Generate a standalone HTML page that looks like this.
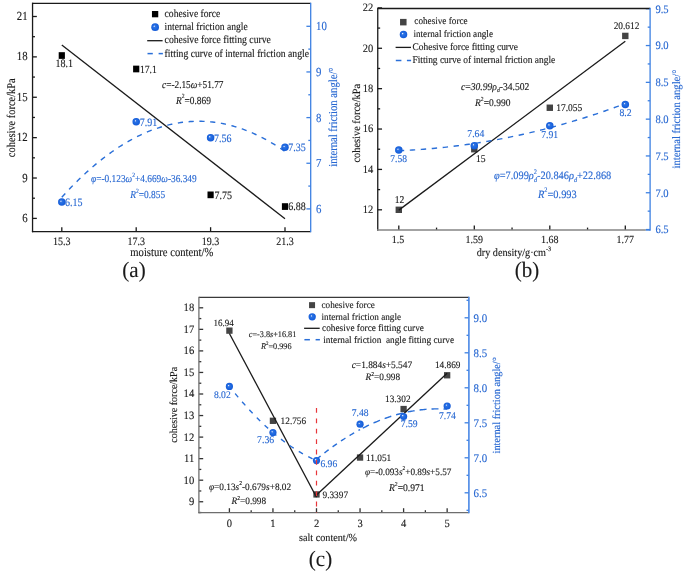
<!DOCTYPE html>
<html><head><meta charset="utf-8"><style>
html,body{margin:0;padding:0;background:#fff;}
svg{display:block;will-change:transform;}
text{font-family:"Liberation Serif",serif;text-rendering:geometricPrecision;}
</style></head><body>
<svg width="685" height="576" viewBox="0 0 685 576">
<defs>
<radialGradient id="ball" cx="0.5" cy="0.5" r="0.5" fx="0.36" fy="0.36">
<stop offset="0" stop-color="#eef4fe"/>
<stop offset="0.1" stop-color="#b5cdf5"/>
<stop offset="0.28" stop-color="#2f73e3"/>
<stop offset="0.7" stop-color="#1a65df"/>
<stop offset="1" stop-color="#155ad6"/>
</radialGradient>
</defs>
<rect width="685" height="576" fill="#fff"/>
<line x1="32.55" y1="218.40" x2="36.85" y2="218.40" stroke="#1a1a1a" stroke-width="1.3" />
<text transform="translate(27.60,221.96) scale(1,1.14)" font-size="10.8" fill="#1a1a1a" stroke="#1a1a1a" stroke-width="0.12" text-anchor="end" >6</text>
<line x1="32.55" y1="178.02" x2="36.85" y2="178.02" stroke="#1a1a1a" stroke-width="1.3" />
<text transform="translate(27.60,181.58) scale(1,1.14)" font-size="10.8" fill="#1a1a1a" stroke="#1a1a1a" stroke-width="0.12" text-anchor="end" >9</text>
<line x1="32.55" y1="137.64" x2="36.85" y2="137.64" stroke="#1a1a1a" stroke-width="1.3" />
<text transform="translate(27.60,141.20) scale(1,1.14)" font-size="10.8" fill="#1a1a1a" stroke="#1a1a1a" stroke-width="0.12" text-anchor="end" >12</text>
<line x1="32.55" y1="97.26" x2="36.85" y2="97.26" stroke="#1a1a1a" stroke-width="1.3" />
<text transform="translate(27.60,100.82) scale(1,1.14)" font-size="10.8" fill="#1a1a1a" stroke="#1a1a1a" stroke-width="0.12" text-anchor="end" >15</text>
<line x1="32.55" y1="56.88" x2="36.85" y2="56.88" stroke="#1a1a1a" stroke-width="1.3" />
<text transform="translate(27.60,60.44) scale(1,1.14)" font-size="10.8" fill="#1a1a1a" stroke="#1a1a1a" stroke-width="0.12" text-anchor="end" >18</text>
<line x1="32.55" y1="16.50" x2="36.85" y2="16.50" stroke="#1a1a1a" stroke-width="1.3" />
<text transform="translate(27.60,20.06) scale(1,1.14)" font-size="10.8" fill="#1a1a1a" stroke="#1a1a1a" stroke-width="0.12" text-anchor="end" >21</text>
<line x1="32.55" y1="198.21" x2="34.95" y2="198.21" stroke="#1a1a1a" stroke-width="1.3" />
<line x1="32.55" y1="157.83" x2="34.95" y2="157.83" stroke="#1a1a1a" stroke-width="1.3" />
<line x1="32.55" y1="117.45" x2="34.95" y2="117.45" stroke="#1a1a1a" stroke-width="1.3" />
<line x1="32.55" y1="77.07" x2="34.95" y2="77.07" stroke="#1a1a1a" stroke-width="1.3" />
<line x1="32.55" y1="36.69" x2="34.95" y2="36.69" stroke="#1a1a1a" stroke-width="1.3" />
<line x1="61.80" y1="231.60" x2="61.80" y2="227.20" stroke="#1a1a1a" stroke-width="1.3" />
<text transform="translate(61.80,244.90) scale(1,1.14)" font-size="10" fill="#1a1a1a" stroke="#1a1a1a" stroke-width="0.12" text-anchor="middle" >15.3</text>
<line x1="136.20" y1="231.60" x2="136.20" y2="227.20" stroke="#1a1a1a" stroke-width="1.3" />
<text transform="translate(136.20,244.90) scale(1,1.14)" font-size="10" fill="#1a1a1a" stroke="#1a1a1a" stroke-width="0.12" text-anchor="middle" >17.3</text>
<line x1="210.60" y1="231.60" x2="210.60" y2="227.20" stroke="#1a1a1a" stroke-width="1.3" />
<text transform="translate(210.60,244.90) scale(1,1.14)" font-size="10" fill="#1a1a1a" stroke="#1a1a1a" stroke-width="0.12" text-anchor="middle" >19.3</text>
<line x1="285.00" y1="231.60" x2="285.00" y2="227.20" stroke="#1a1a1a" stroke-width="1.3" />
<text transform="translate(285.00,244.90) scale(1,1.14)" font-size="10" fill="#1a1a1a" stroke="#1a1a1a" stroke-width="0.12" text-anchor="middle" >21.3</text>
<line x1="310.70" y1="208.90" x2="306.40" y2="208.90" stroke="#3d80e2" stroke-width="1.3" />
<text transform="translate(316.00,212.96) scale(1,1.14)" font-size="10.8" fill="#2868d2" stroke="#2868d2" stroke-width="0.12" text-anchor="start" >6</text>
<line x1="310.70" y1="163.25" x2="306.40" y2="163.25" stroke="#3d80e2" stroke-width="1.3" />
<text transform="translate(316.00,167.31) scale(1,1.14)" font-size="10.8" fill="#2868d2" stroke="#2868d2" stroke-width="0.12" text-anchor="start" >7</text>
<line x1="310.70" y1="117.60" x2="306.40" y2="117.60" stroke="#3d80e2" stroke-width="1.3" />
<text transform="translate(316.00,121.66) scale(1,1.14)" font-size="10.8" fill="#2868d2" stroke="#2868d2" stroke-width="0.12" text-anchor="start" >8</text>
<line x1="310.70" y1="71.95" x2="306.40" y2="71.95" stroke="#3d80e2" stroke-width="1.3" />
<text transform="translate(316.00,76.01) scale(1,1.14)" font-size="10.8" fill="#2868d2" stroke="#2868d2" stroke-width="0.12" text-anchor="start" >9</text>
<line x1="310.70" y1="26.30" x2="306.40" y2="26.30" stroke="#3d80e2" stroke-width="1.3" />
<text transform="translate(316.00,30.36) scale(1,1.14)" font-size="10.8" fill="#2868d2" stroke="#2868d2" stroke-width="0.12" text-anchor="start" >10</text>
<line x1="310.70" y1="186.08" x2="308.30" y2="186.08" stroke="#3d80e2" stroke-width="1.3" />
<line x1="310.70" y1="140.43" x2="308.30" y2="140.43" stroke="#3d80e2" stroke-width="1.3" />
<line x1="310.70" y1="94.78" x2="308.30" y2="94.78" stroke="#3d80e2" stroke-width="1.3" />
<line x1="310.70" y1="49.12" x2="308.30" y2="49.12" stroke="#3d80e2" stroke-width="1.3" />
<line x1="32.55" y1="3.30" x2="310.70" y2="3.30" stroke="#1a1a1a" stroke-width="1.3" />
<line x1="32.55" y1="2.65" x2="32.55" y2="232.25" stroke="#1a1a1a" stroke-width="1.3" />
<line x1="31.90" y1="231.60" x2="310.70" y2="231.60" stroke="#1a1a1a" stroke-width="1.3" />
<line x1="310.70" y1="2.65" x2="310.70" y2="232.25" stroke="#3d80e2" stroke-width="1.3" />
<line x1="61.80" y1="45.10" x2="285.00" y2="218.74" stroke="#1a1a1a" stroke-width="1.3" />
<polyline points="61.80,197.30 63.66,195.24 65.52,193.22 67.38,191.22 69.24,189.26 71.10,187.32 72.96,185.40 74.82,183.52 76.68,181.67 78.54,179.84 80.40,178.04 82.26,176.27 84.12,174.52 85.98,172.81 87.84,171.12 89.70,169.46 91.56,167.83 93.42,166.23 95.28,164.65 97.14,163.11 99.00,161.59 100.86,160.10 102.72,158.64 104.58,157.20 106.44,155.79 108.30,154.42 110.16,153.07 112.02,151.74 113.88,150.45 115.74,149.18 117.60,147.95 119.46,146.74 121.32,145.55 123.18,144.40 125.04,143.27 126.90,142.18 128.76,141.11 130.62,140.07 132.48,139.05 134.34,138.07 136.20,137.11 138.06,136.18 139.92,135.28 141.78,134.41 143.64,133.56 145.50,132.75 147.36,131.96 149.22,131.20 151.08,130.46 152.94,129.76 154.80,129.08 156.66,128.43 158.52,127.81 160.38,127.22 162.24,126.66 164.10,126.12 165.96,125.61 167.82,125.13 169.68,124.68 171.54,124.26 173.40,123.86 175.26,123.50 177.12,123.16 178.98,122.84 180.84,122.56 182.70,122.31 184.56,122.08 186.42,121.88 188.28,121.71 190.14,121.57 192.00,121.45 193.86,121.36 195.72,121.30 197.58,121.27 199.44,121.27 201.30,121.30 203.16,121.35 205.02,121.43 206.88,121.54 208.74,121.68 210.60,121.85 212.46,122.04 214.32,122.26 216.18,122.51 218.04,122.79 219.90,123.10 221.76,123.43 223.62,123.79 225.48,124.18 227.34,124.60 229.20,125.05 231.06,125.52 232.92,126.03 234.78,126.56 236.64,127.11 238.50,127.70 240.36,128.32 242.22,128.96 244.08,129.63 245.94,130.33 247.80,131.06 249.66,131.81 251.52,132.60 253.38,133.41 255.24,134.25 257.10,135.12 258.96,136.01 260.82,136.93 262.68,137.89 264.54,138.87 266.40,139.87 268.26,140.91 270.12,141.98 271.98,143.07 273.84,144.19 275.70,145.34 277.56,146.51 279.42,147.72 281.28,148.95 283.14,150.21 285.00,151.50" fill="none" stroke="#2a6fd8" stroke-width="1.4" stroke-dasharray="5.2,5.6" stroke-dashoffset="0"/>
<rect x="58.70" y="52.18" width="6.2" height="6.7" fill="#000"/>
<rect x="133.10" y="65.64" width="6.2" height="6.7" fill="#000"/>
<rect x="207.50" y="191.50" width="6.2" height="6.7" fill="#000"/>
<rect x="281.90" y="203.21" width="6.2" height="6.7" fill="#000"/>
<text transform="translate(64.30,67.20) scale(1,1.14)" font-size="10" fill="#1a1a1a" stroke="#1a1a1a" stroke-width="0.12" text-anchor="middle" >18.1</text>
<text transform="translate(139.90,73.19) scale(1,1.14)" font-size="9.7" fill="#1a1a1a" stroke="#1a1a1a" stroke-width="0.12" text-anchor="start" >17.1</text>
<text transform="translate(214.40,198.75) scale(1,1.14)" font-size="10" fill="#1a1a1a" stroke="#1a1a1a" stroke-width="0.12" text-anchor="start" >7.75</text>
<text transform="translate(288.30,210.46) scale(1,1.14)" font-size="10" fill="#1a1a1a" stroke="#1a1a1a" stroke-width="0.12" text-anchor="start" >6.88</text>
<circle cx="61.80" cy="202.05" r="3.75" fill="url(#ball)"/>
<circle cx="136.20" cy="121.71" r="3.75" fill="url(#ball)"/>
<circle cx="210.60" cy="137.69" r="3.75" fill="url(#ball)"/>
<circle cx="285.00" cy="147.27" r="3.75" fill="url(#ball)"/>
<text transform="translate(65.00,205.95) scale(1,1.14)" font-size="10" fill="#2868d2" stroke="#2868d2" stroke-width="0.12" text-anchor="start" >6.15</text>
<text transform="translate(139.80,125.61) scale(1,1.14)" font-size="10" fill="#2868d2" stroke="#2868d2" stroke-width="0.12" text-anchor="start" >7.91</text>
<text transform="translate(214.00,141.59) scale(1,1.14)" font-size="10" fill="#2868d2" stroke="#2868d2" stroke-width="0.12" text-anchor="start" >7.56</text>
<text transform="translate(288.30,151.17) scale(1,1.14)" font-size="10" fill="#2868d2" stroke="#2868d2" stroke-width="0.12" text-anchor="start" >7.35</text>
<rect x="151.95" y="11.00" width="6.3" height="6.3" fill="#000"/>
<circle cx="155.15" cy="27.15" r="3.85" fill="url(#ball)"/>
<line x1="147.20" y1="40.70" x2="162.60" y2="40.70" stroke="#1a1a1a" stroke-width="1.3" />
<line x1="147.50" y1="53.60" x2="152.80" y2="53.60" stroke="#2a6fd8" stroke-width="1.5" />
<line x1="158.60" y1="53.60" x2="162.90" y2="53.60" stroke="#2a6fd8" stroke-width="1.5" />
<text transform="translate(164.60,17.00) scale(1,1.14)" font-size="9.6" fill="#1a1a1a" stroke="#1a1a1a" stroke-width="0.12" text-anchor="start" >cohesive force</text>
<text transform="translate(164.60,30.20) scale(1,1.14)" font-size="9.6" fill="#1a1a1a" stroke="#1a1a1a" stroke-width="0.12" text-anchor="start" >internal friction angle</text>
<text transform="translate(164.60,43.40) scale(1,1.14)" font-size="9.7" fill="#1a1a1a" stroke="#1a1a1a" stroke-width="0.12" text-anchor="start" >cohesive force fitting curve</text>
<text transform="translate(164.60,56.60) scale(1,1.14)" font-size="9.7" fill="#1a1a1a" stroke="#1a1a1a" stroke-width="0.12" text-anchor="start" >fitting curve of internal friction angle</text>
<text transform="translate(162.00,87.50) scale(1,1.14)" font-size="9.3" fill="#1a1a1a" stroke="#1a1a1a" stroke-width="0.12" text-anchor="start"><tspan font-style="italic">c</tspan><tspan>=-2.15</tspan><tspan font-style="italic">ω</tspan><tspan>+51.77</tspan></text>
<text transform="translate(176.00,103.50) scale(1,1.14)" font-size="9.4" fill="#1a1a1a" stroke="#1a1a1a" stroke-width="0.12" text-anchor="start"><tspan font-style="italic">R</tspan><tspan font-size="5.64" dy="-4.51">2</tspan><tspan dy="4.51">=0.869</tspan></text>
<text transform="translate(91.00,181.80) scale(1,1.14)" font-size="9.35" fill="#2868d2" stroke="#2868d2" stroke-width="0.12" text-anchor="start"><tspan font-style="italic">φ</tspan><tspan>=-0.123</tspan><tspan font-style="italic">ω</tspan><tspan font-size="5.61" dy="-4.49">2</tspan><tspan dy="4.49">+4.669</tspan><tspan font-style="italic">ω</tspan><tspan>-36.349</tspan></text>
<text transform="translate(130.20,198.00) scale(1,1.14)" font-size="9.4" fill="#2868d2" stroke="#2868d2" stroke-width="0.12" text-anchor="start"><tspan font-style="italic">R</tspan><tspan font-size="5.64" dy="-4.51">2</tspan><tspan dy="4.51">=0.855</tspan></text>
<text transform="translate(171.80,256.30) scale(1,1.14)" font-size="10.65" fill="#1a1a1a" stroke="#1a1a1a" stroke-width="0.12" text-anchor="middle" >moisture content/%</text>
<text transform="translate(14.90,117.75) rotate(-90) scale(1,1.14)" font-size="10.4" fill="#1a1a1a" stroke="#1a1a1a" stroke-width="0.12" text-anchor="middle">cohesive force/kPa</text>
<text transform="translate(337.00,117.10) rotate(-90) scale(1,1.14)" font-size="10.65" fill="#2868d2" stroke="#2868d2" stroke-width="0.12" text-anchor="middle">internal friction angle/°</text>
<text transform="translate(134.00,277.30) scale(1,1.04)" font-size="21" fill="#1a1a1a" stroke="#1a1a1a" stroke-width="0.12" text-anchor="middle" >(a)</text>
<line x1="377.75" y1="209.80" x2="382.05" y2="209.80" stroke="#1a1a1a" stroke-width="1.3" />
<text transform="translate(373.20,213.14) scale(1,1.08)" font-size="10.5" fill="#1a1a1a" stroke="#1a1a1a" stroke-width="0.12" text-anchor="end" >12</text>
<line x1="377.75" y1="169.42" x2="382.05" y2="169.42" stroke="#1a1a1a" stroke-width="1.3" />
<text transform="translate(373.20,172.76) scale(1,1.08)" font-size="10.5" fill="#1a1a1a" stroke="#1a1a1a" stroke-width="0.12" text-anchor="end" >14</text>
<line x1="377.75" y1="129.04" x2="382.05" y2="129.04" stroke="#1a1a1a" stroke-width="1.3" />
<text transform="translate(373.20,132.38) scale(1,1.08)" font-size="10.5" fill="#1a1a1a" stroke="#1a1a1a" stroke-width="0.12" text-anchor="end" >16</text>
<line x1="377.75" y1="88.66" x2="382.05" y2="88.66" stroke="#1a1a1a" stroke-width="1.3" />
<text transform="translate(373.20,92.00) scale(1,1.08)" font-size="10.5" fill="#1a1a1a" stroke="#1a1a1a" stroke-width="0.12" text-anchor="end" >18</text>
<line x1="377.75" y1="48.28" x2="382.05" y2="48.28" stroke="#1a1a1a" stroke-width="1.3" />
<text transform="translate(373.20,51.62) scale(1,1.08)" font-size="10.5" fill="#1a1a1a" stroke="#1a1a1a" stroke-width="0.12" text-anchor="end" >20</text>
<line x1="377.75" y1="7.90" x2="382.05" y2="7.90" stroke="#1a1a1a" stroke-width="1.3" />
<text transform="translate(373.20,11.24) scale(1,1.08)" font-size="10.5" fill="#1a1a1a" stroke="#1a1a1a" stroke-width="0.12" text-anchor="end" >22</text>
<line x1="377.75" y1="189.61" x2="380.15" y2="189.61" stroke="#1a1a1a" stroke-width="1.3" />
<line x1="377.75" y1="149.23" x2="380.15" y2="149.23" stroke="#1a1a1a" stroke-width="1.3" />
<line x1="377.75" y1="108.85" x2="380.15" y2="108.85" stroke="#1a1a1a" stroke-width="1.3" />
<line x1="377.75" y1="68.47" x2="380.15" y2="68.47" stroke="#1a1a1a" stroke-width="1.3" />
<line x1="377.75" y1="28.09" x2="380.15" y2="28.09" stroke="#1a1a1a" stroke-width="1.3" />
<line x1="398.80" y1="230.00" x2="398.80" y2="225.60" stroke="#1a1a1a" stroke-width="1.3" />
<text transform="translate(398.10,243.00) scale(1,1.08)" font-size="10" fill="#1a1a1a" stroke="#1a1a1a" stroke-width="0.12" text-anchor="middle" >1.5</text>
<line x1="474.30" y1="230.00" x2="474.30" y2="225.60" stroke="#1a1a1a" stroke-width="1.3" />
<text transform="translate(474.30,243.00) scale(1,1.08)" font-size="10" fill="#1a1a1a" stroke="#1a1a1a" stroke-width="0.12" text-anchor="middle" >1.59</text>
<line x1="549.80" y1="230.00" x2="549.80" y2="225.60" stroke="#1a1a1a" stroke-width="1.3" />
<text transform="translate(549.80,243.00) scale(1,1.08)" font-size="10" fill="#1a1a1a" stroke="#1a1a1a" stroke-width="0.12" text-anchor="middle" >1.68</text>
<line x1="625.30" y1="230.00" x2="625.30" y2="225.60" stroke="#1a1a1a" stroke-width="1.3" />
<text transform="translate(625.30,243.00) scale(1,1.08)" font-size="10" fill="#1a1a1a" stroke="#1a1a1a" stroke-width="0.12" text-anchor="middle" >1.77</text>
<line x1="436.55" y1="230.00" x2="436.55" y2="227.60" stroke="#1a1a1a" stroke-width="1.3" />
<line x1="512.05" y1="230.00" x2="512.05" y2="227.60" stroke="#1a1a1a" stroke-width="1.3" />
<line x1="587.55" y1="230.00" x2="587.55" y2="227.60" stroke="#1a1a1a" stroke-width="1.3" />
<line x1="650.10" y1="229.55" x2="645.80" y2="229.55" stroke="#3d80e2" stroke-width="1.3" />
<text transform="translate(655.40,233.33) scale(1,1.08)" font-size="10.6" fill="#2868d2" stroke="#2868d2" stroke-width="0.12" text-anchor="start" >6.5</text>
<line x1="650.10" y1="192.75" x2="645.80" y2="192.75" stroke="#3d80e2" stroke-width="1.3" />
<text transform="translate(655.40,196.53) scale(1,1.08)" font-size="10.6" fill="#2868d2" stroke="#2868d2" stroke-width="0.12" text-anchor="start" >7.0</text>
<line x1="650.10" y1="155.95" x2="645.80" y2="155.95" stroke="#3d80e2" stroke-width="1.3" />
<text transform="translate(655.40,159.73) scale(1,1.08)" font-size="10.6" fill="#2868d2" stroke="#2868d2" stroke-width="0.12" text-anchor="start" >7.5</text>
<line x1="650.10" y1="119.15" x2="645.80" y2="119.15" stroke="#3d80e2" stroke-width="1.3" />
<text transform="translate(655.40,122.93) scale(1,1.08)" font-size="10.6" fill="#2868d2" stroke="#2868d2" stroke-width="0.12" text-anchor="start" >8.0</text>
<line x1="650.10" y1="82.35" x2="645.80" y2="82.35" stroke="#3d80e2" stroke-width="1.3" />
<text transform="translate(655.40,86.13) scale(1,1.08)" font-size="10.6" fill="#2868d2" stroke="#2868d2" stroke-width="0.12" text-anchor="start" >8.5</text>
<line x1="650.10" y1="45.55" x2="645.80" y2="45.55" stroke="#3d80e2" stroke-width="1.3" />
<text transform="translate(655.40,49.33) scale(1,1.08)" font-size="10.6" fill="#2868d2" stroke="#2868d2" stroke-width="0.12" text-anchor="start" >9.0</text>
<line x1="650.10" y1="8.75" x2="645.80" y2="8.75" stroke="#3d80e2" stroke-width="1.3" />
<text transform="translate(655.40,12.53) scale(1,1.08)" font-size="10.6" fill="#2868d2" stroke="#2868d2" stroke-width="0.12" text-anchor="start" >9.5</text>
<line x1="650.10" y1="211.15" x2="647.70" y2="211.15" stroke="#3d80e2" stroke-width="1.3" />
<line x1="650.10" y1="174.35" x2="647.70" y2="174.35" stroke="#3d80e2" stroke-width="1.3" />
<line x1="650.10" y1="137.55" x2="647.70" y2="137.55" stroke="#3d80e2" stroke-width="1.3" />
<line x1="650.10" y1="100.75" x2="647.70" y2="100.75" stroke="#3d80e2" stroke-width="1.3" />
<line x1="650.10" y1="63.95" x2="647.70" y2="63.95" stroke="#3d80e2" stroke-width="1.3" />
<line x1="650.10" y1="27.15" x2="647.70" y2="27.15" stroke="#3d80e2" stroke-width="1.3" />
<line x1="377.75" y1="8.50" x2="650.10" y2="8.50" stroke="#1a1a1a" stroke-width="1.3" />
<line x1="377.75" y1="7.85" x2="377.75" y2="230.65" stroke="#1a1a1a" stroke-width="1.3" />
<line x1="377.10" y1="230.00" x2="645.80" y2="230.00" stroke="#858585" stroke-width="1.3" />
<line x1="645.80" y1="230.00" x2="650.10" y2="230.00" stroke="#3d80e2" stroke-width="1.3" />
<line x1="650.10" y1="7.85" x2="650.10" y2="230.65" stroke="#3d80e2" stroke-width="1.3" />
<rect x="395.60" y="206.60" width="6.4" height="6.4" fill="#444444"/>
<rect x="471.10" y="146.03" width="6.4" height="6.4" fill="#444444"/>
<rect x="546.60" y="104.54" width="6.4" height="6.4" fill="#444444"/>
<rect x="622.10" y="32.72" width="6.4" height="6.4" fill="#444444"/>
<line x1="398.80" y1="210.14" x2="625.30" y2="41.21" stroke="#1a1a1a" stroke-width="1.3" />
<polyline points="398.80,150.67 401.06,150.58 403.33,150.47 405.60,150.37 407.86,150.25 410.13,150.13 412.39,149.99 414.65,149.86 416.92,149.71 419.19,149.55 421.45,149.39 423.72,149.22 425.98,149.05 428.24,148.86 430.51,148.67 432.77,148.47 435.04,148.26 437.31,148.04 439.57,147.82 441.83,147.59 444.10,147.35 446.37,147.11 448.63,146.85 450.90,146.59 453.16,146.32 455.42,146.05 457.69,145.76 459.95,145.47 462.22,145.17 464.49,144.87 466.75,144.55 469.02,144.23 471.28,143.90 473.54,143.56 475.81,143.22 478.08,142.87 480.34,142.51 482.61,142.14 484.87,141.76 487.13,141.38 489.40,140.99 491.67,140.59 493.93,140.19 496.20,139.77 498.46,139.35 500.72,138.92 502.99,138.49 505.25,138.04 507.52,137.59 509.79,137.13 512.05,136.67 514.31,136.19 516.58,135.71 518.85,135.22 521.11,134.72 523.38,134.22 525.64,133.71 527.90,133.19 530.17,132.66 532.43,132.12 534.70,131.58 536.97,131.03 539.23,130.47 541.50,129.91 543.76,129.33 546.02,128.75 548.29,128.16 550.56,127.57 552.82,126.96 555.09,126.35 557.35,125.73 559.62,125.11 561.88,124.47 564.15,123.83 566.41,123.18 568.68,122.52 570.94,121.86 573.20,121.19 575.47,120.51 577.74,119.82 580.00,119.12 582.27,118.42 584.53,117.71 586.79,116.99 589.06,116.27 591.33,115.53 593.59,114.79 595.86,114.04 598.12,113.29 600.38,112.52 602.65,111.75 604.92,110.97 607.18,110.19 609.45,109.39 611.71,108.59 613.98,107.78 616.24,106.96 618.50,106.14 620.77,105.31 623.04,104.47 625.30,103.62" fill="none" stroke="#2a6fd8" stroke-width="1.4" stroke-dasharray="5.4,5.6" stroke-dashoffset="0"/>
<circle cx="398.80" cy="150.06" r="3.75" fill="url(#ball)"/>
<circle cx="474.30" cy="145.65" r="3.75" fill="url(#ball)"/>
<circle cx="549.80" cy="125.77" r="3.75" fill="url(#ball)"/>
<circle cx="625.30" cy="104.43" r="3.75" fill="url(#ball)"/>
<text transform="translate(399.50,202.50) scale(1,1.08)" font-size="9.6" fill="#1a1a1a" stroke="#1a1a1a" stroke-width="0.12" text-anchor="middle" >12</text>
<text transform="translate(480.80,161.90) scale(1,1.08)" font-size="9.6" fill="#1a1a1a" stroke="#1a1a1a" stroke-width="0.12" text-anchor="middle" >15</text>
<text transform="translate(556.20,110.90) scale(1,1.08)" font-size="9.5" fill="#1a1a1a" stroke="#1a1a1a" stroke-width="0.12" text-anchor="start" >17.055</text>
<text transform="translate(626.50,29.40) scale(1,1.08)" font-size="9.35" fill="#1a1a1a" stroke="#1a1a1a" stroke-width="0.12" text-anchor="middle" >20.612</text>
<text transform="translate(398.60,162.40) scale(1,1.08)" font-size="9.5" fill="#2868d2" stroke="#2868d2" stroke-width="0.12" text-anchor="middle" >7.58</text>
<text transform="translate(475.80,136.70) scale(1,1.08)" font-size="9.7" fill="#2868d2" stroke="#2868d2" stroke-width="0.12" text-anchor="middle" >7.64</text>
<text transform="translate(549.70,137.70) scale(1,1.08)" font-size="9.7" fill="#2868d2" stroke="#2868d2" stroke-width="0.12" text-anchor="middle" >7.91</text>
<text transform="translate(625.50,115.60) scale(1,1.08)" font-size="9.7" fill="#2868d2" stroke="#2868d2" stroke-width="0.12" text-anchor="middle" >8.2</text>
<rect x="400.05" y="18.90" width="6.5" height="6.5" fill="#444444"/>
<circle cx="403.50" cy="34.50" r="3.75" fill="url(#ball)"/>
<line x1="395.60" y1="47.40" x2="411.00" y2="47.40" stroke="#1a1a1a" stroke-width="1.3" />
<line x1="395.80" y1="60.50" x2="401.40" y2="60.50" stroke="#2a6fd8" stroke-width="1.5" />
<line x1="406.90" y1="60.50" x2="411.10" y2="60.50" stroke="#2a6fd8" stroke-width="1.5" />
<text transform="translate(414.30,24.10) scale(1,1.08)" font-size="9.2" fill="#1a1a1a" stroke="#1a1a1a" stroke-width="0.12" text-anchor="start" >cohesive force</text>
<text transform="translate(413.40,36.80) scale(1,1.08)" font-size="9.2" fill="#1a1a1a" stroke="#1a1a1a" stroke-width="0.12" text-anchor="start" >internal friction angle</text>
<text transform="translate(412.60,49.70) scale(1,1.08)" font-size="9.42" fill="#1a1a1a" stroke="#1a1a1a" stroke-width="0.12" text-anchor="start" >Cohesive force fitting curve</text>
<text transform="translate(412.40,62.60) scale(1,1.08)" font-size="9.45" fill="#1a1a1a" stroke="#1a1a1a" stroke-width="0.12" text-anchor="start" >Fitting curve of internal friction angle</text>
<text transform="translate(461.00,89.60) scale(1,1.08)" font-size="9.6" fill="#1a1a1a" stroke="#1a1a1a" stroke-width="0.12" text-anchor="start"><tspan font-style="italic">c</tspan><tspan>=</tspan><tspan font-style="italic">30.99</tspan><tspan font-style="italic">ρ</tspan><tspan font-size="5.76" font-style="italic" dy="2.40">d</tspan><tspan dy="-2.40">-34.502</tspan></text>
<text transform="translate(475.00,106.10) scale(1,1.08)" font-size="9.5" fill="#1a1a1a" stroke="#1a1a1a" stroke-width="0.12" text-anchor="start"><tspan font-style="italic">R</tspan><tspan font-size="5.7" dy="-4.56">2</tspan><tspan dy="4.56">=0.990</tspan></text>
<text transform="translate(494.00,179.40) scale(1,1.08)" font-size="10.35" fill="#2868d2" stroke="#2868d2" stroke-width="0.12" text-anchor="start"><tspan font-style="italic">φ</tspan><tspan>=7.099</tspan><tspan font-style="italic">ρ</tspan><tspan font-size="6.21" dy="-4.97">2</tspan><tspan dx="-3.0" font-size="6.21" font-style="italic" dy="7.56">d</tspan><tspan dy="-2.59">-20.846</tspan><tspan font-style="italic">ρ</tspan><tspan font-size="6.21" font-style="italic" dy="2.59">d</tspan><tspan dy="-2.59">+22.868</tspan></text>
<text transform="translate(538.00,197.80) scale(1,1.08)" font-size="10.4" fill="#2868d2" stroke="#2868d2" stroke-width="0.12" text-anchor="start"><tspan font-style="italic">R</tspan><tspan font-size="6.24" dy="-4.99">2</tspan><tspan dy="4.99">=0.993</tspan></text>
<text transform="translate(513.90,256.00) scale(1,1.08)" font-size="10.2" fill="#1a1a1a" stroke="#1a1a1a" stroke-width="0.12" text-anchor="middle"><tspan>dry density/g·cm</tspan><tspan font-size="6.12" dy="-4.90">-3</tspan></text>
<text transform="translate(359.90,123.20) rotate(-90) scale(1,1.08)" font-size="10.4" fill="#1a1a1a" stroke="#1a1a1a" stroke-width="0.12" text-anchor="middle">cohesive force/kPa</text>
<text transform="translate(680.00,119.00) rotate(-90) scale(1,1.08)" font-size="10.6" fill="#2868d2" stroke="#2868d2" stroke-width="0.12" text-anchor="middle">internal friction angle/°</text>
<text transform="translate(527.10,277.30) scale(1,1.04)" font-size="21" fill="#1a1a1a" stroke="#1a1a1a" stroke-width="0.12" text-anchor="middle" >(b)</text>
<line x1="198.90" y1="501.75" x2="203.20" y2="501.75" stroke="#333" stroke-width="1.3" />
<text transform="translate(194.20,505.16) scale(1,1.06)" font-size="10.6" fill="#1a1a1a" stroke="#1a1a1a" stroke-width="0.12" text-anchor="end" >9</text>
<line x1="198.90" y1="480.20" x2="203.20" y2="480.20" stroke="#333" stroke-width="1.3" />
<text transform="translate(194.20,483.61) scale(1,1.06)" font-size="10.6" fill="#1a1a1a" stroke="#1a1a1a" stroke-width="0.12" text-anchor="end" >10</text>
<line x1="198.90" y1="458.65" x2="203.20" y2="458.65" stroke="#333" stroke-width="1.3" />
<text transform="translate(194.20,462.06) scale(1,1.06)" font-size="10.6" fill="#1a1a1a" stroke="#1a1a1a" stroke-width="0.12" text-anchor="end" >11</text>
<line x1="198.90" y1="437.10" x2="203.20" y2="437.10" stroke="#333" stroke-width="1.3" />
<text transform="translate(194.20,440.51) scale(1,1.06)" font-size="10.6" fill="#1a1a1a" stroke="#1a1a1a" stroke-width="0.12" text-anchor="end" >12</text>
<line x1="198.90" y1="415.55" x2="203.20" y2="415.55" stroke="#333" stroke-width="1.3" />
<text transform="translate(194.20,418.96) scale(1,1.06)" font-size="10.6" fill="#1a1a1a" stroke="#1a1a1a" stroke-width="0.12" text-anchor="end" >13</text>
<line x1="198.90" y1="394.00" x2="203.20" y2="394.00" stroke="#333" stroke-width="1.3" />
<text transform="translate(194.20,397.41) scale(1,1.06)" font-size="10.6" fill="#1a1a1a" stroke="#1a1a1a" stroke-width="0.12" text-anchor="end" >14</text>
<line x1="198.90" y1="372.45" x2="203.20" y2="372.45" stroke="#333" stroke-width="1.3" />
<text transform="translate(194.20,375.86) scale(1,1.06)" font-size="10.6" fill="#1a1a1a" stroke="#1a1a1a" stroke-width="0.12" text-anchor="end" >15</text>
<line x1="198.90" y1="350.90" x2="203.20" y2="350.90" stroke="#333" stroke-width="1.3" />
<text transform="translate(194.20,354.31) scale(1,1.06)" font-size="10.6" fill="#1a1a1a" stroke="#1a1a1a" stroke-width="0.12" text-anchor="end" >16</text>
<line x1="198.90" y1="329.35" x2="203.20" y2="329.35" stroke="#333" stroke-width="1.3" />
<text transform="translate(194.20,332.76) scale(1,1.06)" font-size="10.6" fill="#1a1a1a" stroke="#1a1a1a" stroke-width="0.12" text-anchor="end" >17</text>
<line x1="198.90" y1="307.80" x2="203.20" y2="307.80" stroke="#333" stroke-width="1.3" />
<text transform="translate(194.20,311.21) scale(1,1.06)" font-size="10.6" fill="#1a1a1a" stroke="#1a1a1a" stroke-width="0.12" text-anchor="end" >18</text>
<line x1="198.90" y1="512.52" x2="201.30" y2="512.52" stroke="#333" stroke-width="1.3" />
<line x1="198.90" y1="490.98" x2="201.30" y2="490.98" stroke="#333" stroke-width="1.3" />
<line x1="198.90" y1="469.43" x2="201.30" y2="469.43" stroke="#333" stroke-width="1.3" />
<line x1="198.90" y1="447.88" x2="201.30" y2="447.88" stroke="#333" stroke-width="1.3" />
<line x1="198.90" y1="426.33" x2="201.30" y2="426.33" stroke="#333" stroke-width="1.3" />
<line x1="198.90" y1="404.78" x2="201.30" y2="404.78" stroke="#333" stroke-width="1.3" />
<line x1="198.90" y1="383.23" x2="201.30" y2="383.23" stroke="#333" stroke-width="1.3" />
<line x1="198.90" y1="361.68" x2="201.30" y2="361.68" stroke="#333" stroke-width="1.3" />
<line x1="198.90" y1="340.12" x2="201.30" y2="340.12" stroke="#333" stroke-width="1.3" />
<line x1="198.90" y1="318.57" x2="201.30" y2="318.57" stroke="#333" stroke-width="1.3" />
<line x1="229.40" y1="512.60" x2="229.40" y2="508.20" stroke="#333" stroke-width="1.3" />
<text transform="translate(229.40,526.60) scale(1,1.06)" font-size="10.5" fill="#1a1a1a" stroke="#1a1a1a" stroke-width="0.12" text-anchor="middle" >0</text>
<line x1="272.95" y1="512.60" x2="272.95" y2="508.20" stroke="#333" stroke-width="1.3" />
<text transform="translate(272.95,526.60) scale(1,1.06)" font-size="10.5" fill="#1a1a1a" stroke="#1a1a1a" stroke-width="0.12" text-anchor="middle" >1</text>
<line x1="316.50" y1="512.60" x2="316.50" y2="508.20" stroke="#333" stroke-width="1.3" />
<text transform="translate(316.50,526.60) scale(1,1.06)" font-size="10.5" fill="#1a1a1a" stroke="#1a1a1a" stroke-width="0.12" text-anchor="middle" >2</text>
<line x1="360.05" y1="512.60" x2="360.05" y2="508.20" stroke="#333" stroke-width="1.3" />
<text transform="translate(360.05,526.60) scale(1,1.06)" font-size="10.5" fill="#1a1a1a" stroke="#1a1a1a" stroke-width="0.12" text-anchor="middle" >3</text>
<line x1="403.60" y1="512.60" x2="403.60" y2="508.20" stroke="#333" stroke-width="1.3" />
<text transform="translate(403.60,526.60) scale(1,1.06)" font-size="10.5" fill="#1a1a1a" stroke="#1a1a1a" stroke-width="0.12" text-anchor="middle" >4</text>
<line x1="447.15" y1="512.60" x2="447.15" y2="508.20" stroke="#333" stroke-width="1.3" />
<text transform="translate(447.15,526.60) scale(1,1.06)" font-size="10.5" fill="#1a1a1a" stroke="#1a1a1a" stroke-width="0.12" text-anchor="middle" >5</text>
<line x1="251.18" y1="512.60" x2="251.18" y2="510.20" stroke="#333" stroke-width="1.3" />
<line x1="294.73" y1="512.60" x2="294.73" y2="510.20" stroke="#333" stroke-width="1.3" />
<line x1="338.27" y1="512.60" x2="338.27" y2="510.20" stroke="#333" stroke-width="1.3" />
<line x1="381.82" y1="512.60" x2="381.82" y2="510.20" stroke="#333" stroke-width="1.3" />
<line x1="425.38" y1="512.60" x2="425.38" y2="510.20" stroke="#333" stroke-width="1.3" />
<line x1="468.90" y1="492.80" x2="464.60" y2="492.80" stroke="#3d80e2" stroke-width="1.3" />
<text transform="translate(473.50,496.81) scale(1,1.06)" font-size="10.9" fill="#2868d2" stroke="#2868d2" stroke-width="0.12" text-anchor="start" >6.5</text>
<line x1="468.90" y1="457.80" x2="464.60" y2="457.80" stroke="#3d80e2" stroke-width="1.3" />
<text transform="translate(473.50,461.81) scale(1,1.06)" font-size="10.9" fill="#2868d2" stroke="#2868d2" stroke-width="0.12" text-anchor="start" >7.0</text>
<line x1="468.90" y1="422.80" x2="464.60" y2="422.80" stroke="#3d80e2" stroke-width="1.3" />
<text transform="translate(473.50,426.81) scale(1,1.06)" font-size="10.9" fill="#2868d2" stroke="#2868d2" stroke-width="0.12" text-anchor="start" >7.5</text>
<line x1="468.90" y1="387.80" x2="464.60" y2="387.80" stroke="#3d80e2" stroke-width="1.3" />
<text transform="translate(473.50,391.81) scale(1,1.06)" font-size="10.9" fill="#2868d2" stroke="#2868d2" stroke-width="0.12" text-anchor="start" >8.0</text>
<line x1="468.90" y1="352.80" x2="464.60" y2="352.80" stroke="#3d80e2" stroke-width="1.3" />
<text transform="translate(473.50,356.81) scale(1,1.06)" font-size="10.9" fill="#2868d2" stroke="#2868d2" stroke-width="0.12" text-anchor="start" >8.5</text>
<line x1="468.90" y1="317.80" x2="464.60" y2="317.80" stroke="#3d80e2" stroke-width="1.3" />
<text transform="translate(473.50,321.81) scale(1,1.06)" font-size="10.9" fill="#2868d2" stroke="#2868d2" stroke-width="0.12" text-anchor="start" >9.0</text>
<line x1="468.90" y1="510.30" x2="466.50" y2="510.30" stroke="#3d80e2" stroke-width="1.3" />
<line x1="468.90" y1="475.30" x2="466.50" y2="475.30" stroke="#3d80e2" stroke-width="1.3" />
<line x1="468.90" y1="440.30" x2="466.50" y2="440.30" stroke="#3d80e2" stroke-width="1.3" />
<line x1="468.90" y1="405.30" x2="466.50" y2="405.30" stroke="#3d80e2" stroke-width="1.3" />
<line x1="468.90" y1="370.30" x2="466.50" y2="370.30" stroke="#3d80e2" stroke-width="1.3" />
<line x1="468.90" y1="335.30" x2="466.50" y2="335.30" stroke="#3d80e2" stroke-width="1.3" />
<line x1="468.90" y1="300.30" x2="466.50" y2="300.30" stroke="#3d80e2" stroke-width="1.3" />
<line x1="198.90" y1="297.40" x2="468.90" y2="297.40" stroke="#3a3a3a" stroke-width="1.3" />
<line x1="198.90" y1="296.75" x2="198.90" y2="513.25" stroke="#6e6e6e" stroke-width="1.3" />
<line x1="198.25" y1="512.60" x2="468.90" y2="512.60" stroke="#6e6e6e" stroke-width="1.3" />
<line x1="468.90" y1="296.75" x2="468.90" y2="513.25" stroke="#4a88e6" stroke-width="1.6" />
<rect x="226.25" y="327.49" width="6.3" height="6.3" fill="#444444"/>
<rect x="269.80" y="417.66" width="6.3" height="6.3" fill="#444444"/>
<rect x="313.35" y="491.28" width="6.3" height="6.3" fill="#444444"/>
<rect x="356.90" y="454.40" width="6.3" height="6.3" fill="#444444"/>
<rect x="400.45" y="405.89" width="6.3" height="6.3" fill="#444444"/>
<rect x="444.00" y="372.12" width="6.3" height="6.3" fill="#444444"/>
<polyline points="229.40,333.44 316.50,497.22" fill="none" stroke="#1a1a1a" stroke-width="1.3"/>
<polyline points="316.50,494.96 447.15,373.16" fill="none" stroke="#1a1a1a" stroke-width="1.3"/>
<polyline points="229.40,386.40 230.85,388.23 232.30,390.05 233.75,391.84 235.21,393.61 236.66,395.36 238.11,397.10 239.56,398.81 241.01,400.50 242.47,402.17 243.92,403.82 245.37,405.45 246.82,407.06 248.27,408.65 249.72,410.22 251.18,411.78 252.63,413.30 254.08,414.81 255.53,416.30 256.98,417.77 258.43,419.22 259.88,420.65 261.34,422.06 262.79,423.45 264.24,424.82 265.69,426.16 267.14,427.49 268.60,428.80 270.05,430.09 271.50,431.35 272.95,432.60 274.40,433.83 275.85,435.03 277.31,436.22 278.76,437.38 280.21,438.53 281.66,439.66 283.11,440.76 284.56,441.85 286.01,442.91 287.47,443.96 288.92,444.98 290.37,445.98 291.82,446.97 293.27,447.93 294.73,448.88 296.18,449.80 297.63,450.70 299.08,451.58 300.53,452.45 301.98,453.29 303.44,454.11 304.89,454.91 306.34,455.69 307.79,456.46 309.24,457.20 310.69,457.92 312.14,458.62 313.60,459.30 315.05,459.96 316.50,460.60" fill="none" stroke="#2a6fd8" stroke-width="1.4" stroke-dasharray="4.8,6" stroke-dashoffset="1.6"/>
<polyline points="316.50,459.34 317.59,458.44 318.68,457.54 319.77,456.66 320.86,455.78 321.94,454.91 323.03,454.05 324.12,453.19 325.21,452.35 326.30,451.51 327.39,450.68 328.48,449.86 329.56,449.05 330.65,448.24 331.74,447.45 332.83,446.66 333.92,445.88 335.01,445.11 336.10,444.34 337.19,443.59 338.27,442.84 339.36,442.10 340.45,441.37 341.54,440.64 342.63,439.93 343.72,439.22 344.81,438.52 345.90,437.83 346.99,437.15 348.07,436.47 349.16,435.81 350.25,435.15 351.34,434.50 352.43,433.86 353.52,433.22 354.61,432.60 355.69,431.98 356.78,431.37 357.87,430.77 358.96,430.18 360.05,429.59" fill="none" stroke="#2a6fd8" stroke-width="1.4" stroke-dasharray="5.3,4.9" stroke-dashoffset="0"/>
<polyline points="360.05,429.59 361.14,429.01 362.23,428.44 363.32,427.88 364.40,427.33 365.49,426.79 366.58,426.25 367.67,425.72 368.76,425.20 369.85,424.69 370.94,424.19 372.03,423.69 373.12,423.20 374.20,422.72 375.29,422.25 376.38,421.79 377.47,421.34 378.56,420.89 379.65,420.45 380.74,420.02 381.82,419.60 382.91,419.18 384.00,418.78 385.09,418.38 386.18,417.99 387.27,417.61 388.36,417.23 389.45,416.87 390.53,416.51 391.62,416.16 392.71,415.82 393.80,415.49 394.89,415.16 395.98,414.85 397.07,414.54 398.16,414.24 399.25,413.95 400.33,413.66 401.42,413.39 402.51,413.12 403.60,412.86 404.69,412.61 405.78,412.37 406.87,412.13 407.95,411.90 409.04,411.68 410.13,411.47 411.22,411.27 412.31,411.08 413.40,410.89 414.49,410.71 415.58,410.54 416.66,410.38 417.75,410.23 418.84,410.08 419.93,409.94 421.02,409.81 422.11,409.69 423.20,409.58 424.29,409.47 425.38,409.38 426.46,409.29 427.55,409.21 428.64,409.14 429.73,409.07 430.82,409.02 431.91,408.97 433.00,408.93 434.09,408.90 435.17,408.87 436.26,408.86 437.35,408.85 438.44,408.85 439.53,408.86 440.62,408.88 441.71,408.90 442.80,408.94 443.88,408.98 444.97,409.03 446.06,409.08 447.15,409.15" fill="none" stroke="#2a6fd8" stroke-width="1.4" stroke-dasharray="7,5" stroke-dashoffset="-3"/>
<circle cx="229.40" cy="386.40" r="3.6" fill="url(#ball)"/>
<circle cx="272.95" cy="432.60" r="3.6" fill="url(#ball)"/>
<circle cx="316.50" cy="460.60" r="3.6" fill="url(#ball)"/>
<circle cx="360.05" cy="424.20" r="3.6" fill="url(#ball)"/>
<circle cx="403.60" cy="416.50" r="3.6" fill="url(#ball)"/>
<circle cx="447.15" cy="406.00" r="3.6" fill="url(#ball)"/>
<line x1="316.50" y1="408.0" x2="316.50" y2="512.60" stroke="#e8363a" stroke-width="1.2" stroke-dasharray="4.8,5.6"/>
<text transform="translate(213.60,326.10) scale(1,1.06)" font-size="9.0" fill="#1a1a1a" stroke="#1a1a1a" stroke-width="0.12" text-anchor="start" >16.94</text>
<text transform="translate(280.60,423.80) scale(1,1.06)" font-size="9.3" fill="#1a1a1a" stroke="#1a1a1a" stroke-width="0.12" text-anchor="start" >12.756</text>
<text transform="translate(322.50,497.80) scale(1,1.06)" font-size="9.3" fill="#1a1a1a" stroke="#1a1a1a" stroke-width="0.12" text-anchor="start" >9.3397</text>
<text transform="translate(366.00,460.70) scale(1,1.06)" font-size="9.3" fill="#1a1a1a" stroke="#1a1a1a" stroke-width="0.12" text-anchor="start" >11.051</text>
<text transform="translate(385.00,401.70) scale(1,1.06)" font-size="9.3" fill="#1a1a1a" stroke="#1a1a1a" stroke-width="0.12" text-anchor="start" >13.302</text>
<text transform="translate(434.90,368.30) scale(1,1.06)" font-size="9.3" fill="#1a1a1a" stroke="#1a1a1a" stroke-width="0.12" text-anchor="start" >14.869</text>
<text transform="translate(213.90,397.50) scale(1,1.06)" font-size="9.6" fill="#2868d2" stroke="#2868d2" stroke-width="0.12" text-anchor="start" >8.02</text>
<text transform="translate(257.10,443.00) scale(1,1.06)" font-size="9.8" fill="#2868d2" stroke="#2868d2" stroke-width="0.12" text-anchor="start" >7.36</text>
<text transform="translate(320.40,466.60) scale(1,1.06)" font-size="9.6" fill="#2868d2" stroke="#2868d2" stroke-width="0.12" text-anchor="start" >6.96</text>
<text transform="translate(351.80,416.20) scale(1,1.06)" font-size="9.6" fill="#2868d2" stroke="#2868d2" stroke-width="0.12" text-anchor="start" >7.48</text>
<text transform="translate(400.80,427.30) scale(1,1.06)" font-size="9.6" fill="#2868d2" stroke="#2868d2" stroke-width="0.12" text-anchor="start" >7.59</text>
<text transform="translate(439.00,418.80) scale(1,1.06)" font-size="9.6" fill="#2868d2" stroke="#2868d2" stroke-width="0.12" text-anchor="start" >7.74</text>
<rect x="309.05" y="302.15" width="6.0" height="6.0" fill="#444444"/>
<circle cx="312.20" cy="316.80" r="3.65" fill="url(#ball)"/>
<line x1="304.10" y1="328.30" x2="319.70" y2="328.30" stroke="#1a1a1a" stroke-width="1.3" />
<line x1="304.40" y1="339.70" x2="309.90" y2="339.70" stroke="#2a6fd8" stroke-width="1.5" />
<line x1="315.60" y1="339.70" x2="319.90" y2="339.70" stroke="#2a6fd8" stroke-width="1.5" />
<text transform="translate(321.50,307.90) scale(1,1.06)" font-size="9.2" fill="#1a1a1a" stroke="#1a1a1a" stroke-width="0.12" text-anchor="start" >cohesive force</text>
<text transform="translate(321.50,319.80) scale(1,1.06)" font-size="9.2" fill="#1a1a1a" stroke="#1a1a1a" stroke-width="0.12" text-anchor="start" >internal friction angle</text>
<text transform="translate(322.00,330.50) scale(1,1.06)" font-size="9.3" fill="#1a1a1a" stroke="#1a1a1a" stroke-width="0.12" text-anchor="start" >cohesive force fitting curve</text>
<text transform="translate(323.20,342.70) scale(1,1.06)" font-size="9.3" fill="#1a1a1a" stroke="#1a1a1a" stroke-width="0.12" text-anchor="start" >internal friction  angle fitting curve</text>
<text transform="translate(248.80,336.60) scale(1,1.06)" font-size="8.2" fill="#1a1a1a" stroke="#1a1a1a" stroke-width="0.12" text-anchor="start"><tspan font-style="italic">c</tspan><tspan>=-3.8</tspan><tspan font-style="italic">s</tspan><tspan>+16.81</tspan></text>
<text transform="translate(261.00,349.00) scale(1,1.06)" font-size="8.2" fill="#1a1a1a" stroke="#1a1a1a" stroke-width="0.12" text-anchor="start"><tspan font-style="italic">R</tspan><tspan font-size="4.92" dy="-3.94">2</tspan><tspan dy="3.94">=0.996</tspan></text>
<text transform="translate(351.70,367.50) scale(1,1.06)" font-size="9.35" fill="#1a1a1a" stroke="#1a1a1a" stroke-width="0.12" text-anchor="start"><tspan font-style="italic">c</tspan><tspan>=1.884</tspan><tspan font-style="italic">s</tspan><tspan>+5.547</tspan></text>
<text transform="translate(365.50,380.40) scale(1,1.06)" font-size="9.3" fill="#1a1a1a" stroke="#1a1a1a" stroke-width="0.12" text-anchor="start"><tspan font-style="italic">R</tspan><tspan font-size="5.58" dy="-4.46">2</tspan><tspan dy="4.46">=0.998</tspan></text>
<text transform="translate(208.90,489.60) scale(1,1.06)" font-size="9.3" fill="#1a1a1a" stroke="#1a1a1a" stroke-width="0.12" text-anchor="start"><tspan font-style="italic">φ</tspan><tspan>=0.13</tspan><tspan font-style="italic">s</tspan><tspan font-size="5.58" dy="-4.46">2</tspan><tspan dy="4.46">-0.679</tspan><tspan font-style="italic">s</tspan><tspan>+8.02</tspan></text>
<text transform="translate(231.50,504.30) scale(1,1.06)" font-size="9.3" fill="#1a1a1a" stroke="#1a1a1a" stroke-width="0.12" text-anchor="start"><tspan font-style="italic">R</tspan><tspan font-size="5.58" dy="-4.46">2</tspan><tspan dy="4.46">=0.998</tspan></text>
<text transform="translate(364.90,475.00) scale(1,1.06)" font-size="9.2" fill="#1a1a1a" stroke="#1a1a1a" stroke-width="0.12" text-anchor="start"><tspan font-style="italic">φ</tspan><tspan>=-0.093</tspan><tspan font-style="italic">s</tspan><tspan font-size="5.52" dy="-4.42">2</tspan><tspan dy="4.42">+0.89</tspan><tspan font-style="italic">s</tspan><tspan>+5.57</tspan></text>
<text transform="translate(388.90,490.80) scale(1,1.06)" font-size="9.6" fill="#1a1a1a" stroke="#1a1a1a" stroke-width="0.12" text-anchor="start"><tspan font-style="italic">R</tspan><tspan font-size="5.76" dy="-4.61">2</tspan><tspan dy="4.61">=0.971</tspan></text>
<text transform="translate(328.00,541.20) scale(1,1.06)" font-size="10.2" fill="#1a1a1a" stroke="#1a1a1a" stroke-width="0.12" text-anchor="middle" >salt content/%</text>
<text transform="translate(176.90,404.80) rotate(-90) scale(1,1.06)" font-size="10.0" fill="#1a1a1a" stroke="#1a1a1a" stroke-width="0.12" text-anchor="middle">cohesive force/kPa</text>
<text transform="translate(500.30,405.30) rotate(-90) scale(1,1.06)" font-size="10.3" fill="#2868d2" stroke="#2868d2" stroke-width="0.12" text-anchor="middle">internal friction angle/°</text>
<text transform="translate(320.50,566.00) scale(1,1.04)" font-size="21" fill="#1a1a1a" stroke="#1a1a1a" stroke-width="0.12" text-anchor="middle" >(c)</text>
</svg>
</body></html>
